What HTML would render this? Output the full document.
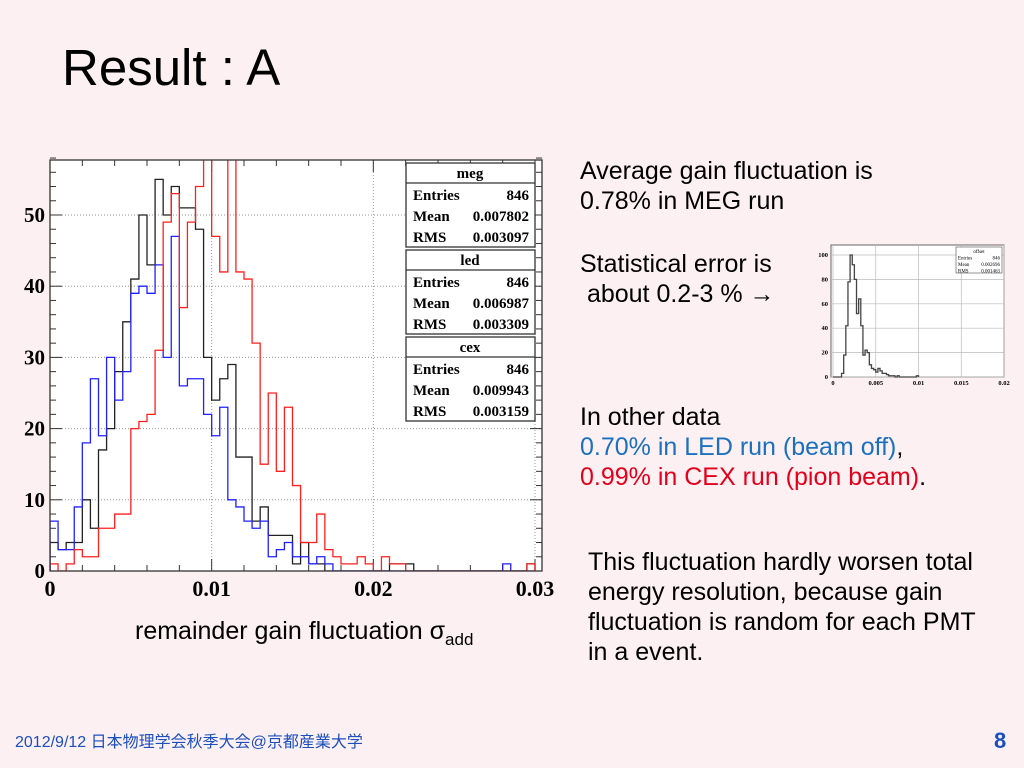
<!DOCTYPE html>
<html><head><meta charset="utf-8"><style>
html,body{margin:0;padding:0}
body{width:1024px;height:768px;position:relative;overflow:hidden;background:#fcf0f2;font-family:"Liberation Sans","Noto Sans CJK JP",sans-serif}
.t{position:absolute;font-size:25px;color:#000;white-space:nowrap;line-height:30px}
svg{position:absolute;left:0;top:0}
</style></head><body>
<div class="t" style="left:62px;top:38px;font-size:51px;line-height:60px">Result : A</div>
<svg id="chart" width="1024" height="768"></svg>
<div class="t" style="left:135px;top:616px">remainder gain fluctuation σ<sub style="font-size:17px">add</sub></div>
<div class="t" style="left:580px;top:156px">Average gain fluctuation is<br>0.78% in MEG run</div>
<div class="t" style="left:580px;top:249px">Statistical error is<br>&nbsp;about 0.2-3 % →</div>
<div class="t" style="left:580px;top:402px">In other data<br><span style="color:#1b70bf">0.70% in LED run (beam off)</span>,<br><span style="color:#e3001b">0.99% in CEX run (pion beam)</span>.</div>
<div class="t" style="left:588px;top:547px">This fluctuation hardly worsen total<br>energy resolution, because gain<br>fluctuation is random for each PMT<br>in a event.</div>
<div class="t" style="left:15px;top:732px;font-size:16px;line-height:22px;color:#1b4fbf">2012/9/12 日本物理学会秋季大会@京都産業大学</div>
<div class="t" style="left:994px;top:726px;font-size:22px;font-weight:bold;color:#1b4fbf">8</div>
<script>
const megCounts=[4,3,4,4,10,6,17,20,28,35,41,50,43,55,50,54,51,51,48,30,24,27,29,16,16,7,9,5,5,5,1,4,1,1,0,0,0,0,0,0,0,0,1,1,1,0,0,0,0,0,0,0,0,0,0,0,0,0,0,1];
const ledCounts=[7,3,3,9,18,27,19,30,24,28,39,40,39,43,30,47,26,27,27,22,19,23,10,9,7,6,7,2,3,4,2,2,1,2,1,0,0,0,0,0,0,0,0,0,0,0,0,0,0,0,0,0,0,0,0,0,1,0,0,0];
const cexCounts=[1,0,1,3,2,2,6,6,8,8,20,21,22,31,49,53,37,49,54,62,47,42,65,42,41,32,15,25,14,23,12,4,4,8,3,2,1,1,2,1,0,2,1,1,0,0,0,0,0,0,0,0,0,0,0,0,0,0,0,1];
const binWidth=0.0005;
const xTicks=[0,0.01,0.02,0.03];
const xTickLabels=["0","0.01","0.02","0.03"];
const yTicks=[0,10,20,30,40,50];
const statNames=["meg","led","cex"];
const statEntries=["846","846","846"];
const statMeans=["0.007802","0.006987","0.009943"];
const statRMS=["0.003097","0.003309","0.003159"];
const insetCounts=[0,0,0,0,3,18,42,78,100,92,80,52,64,42,18,22,20,10,7,6,4,7,5,3,3,2,1,1,1,0,1,0,0,0,0,0,0,0,0,1];
const insetBinWidth=0.00025;
const insetXTicks=[0,0.005,0.01,0.015,0.02];
const insetXLabels=["0","0.005","0.01","0.015","0.02"];
const insetYTicks=[0,20,40,60,80,100];

const NS="http://www.w3.org/2000/svg";
const svg=document.getElementById('chart');
function mk(tag,attrs,parent){const e=document.createElementNS(NS,tag);for(const k in attrs)e.setAttribute(k,attrs[k]);(parent||svg).appendChild(e);return e;}

const L=50,R=542,T=160,B=571;
const xs=v=>L+v/0.03*(535-L);
const ys=v=>B-v*7.12;
const bg=mk('rect',{x:L,y:T,width:R-L,height:B-T,fill:'#fff'});


const clip=mk('clipPath',{id:'pc'});mk('rect',{x:L,y:T,width:R-L,height:B-T},clip);
xTicks.forEach((v,i)=>{
  if(i>0){const g=mk('line',{x1:xs(v),x2:xs(v),y1:T,y2:B,stroke:'#999','stroke-dasharray':'1,2','stroke-width':1});
  
  }
  const t=mk('text',{x:xs(v),y:B+25,'text-anchor':'middle','font-family':'Liberation Serif, serif','font-weight':'bold','font-size':22});
  t.textContent=xTickLabels[i];
  
  
});
yTicks.forEach(v=>{
  if(v>0){const g=mk('line',{x1:L,x2:R,y1:ys(v),y2:ys(v),stroke:'#999','stroke-dasharray':'1,2','stroke-width':1});
  
  }
  const t=mk('text',{x:45,y:ys(v)+7,'text-anchor':'end','font-family':'Liberation Serif, serif','font-weight':'bold','font-size':21});
  t.textContent=String(v);
  
  
});
for(let v=0;v<=58;v+=2){const len=(v%10===0)?12:6;
  mk('line',{x1:L,x2:L+len,y1:ys(v),y2:ys(v),stroke:'#333'});mk('line',{x1:R,x2:R-len,y1:ys(v),y2:ys(v),stroke:'#333'});}
for(let v=0;v<=0.0305;v+=0.002){const len=(Math.abs(v/0.01-Math.round(v/0.01))<1e-6)?12:6;
  mk('line',{x1:xs(v),x2:xs(v),y1:B,y2:B-len,stroke:'#333'});mk('line',{x1:xs(v),x2:xs(v),y1:T,y2:T+len,stroke:'#333'});}
function hist(counts,w,xf,yf,color,name){
  let d='M'+xf(0)+','+yf(0);
  counts.forEach((c,i)=>{d+=' L'+xf(i*w)+','+yf(c)+' L'+xf((i+1)*w)+','+yf(c);});
  d+=' L'+xf(counts.length*w)+','+yf(0);
  const p=mk('path',{d:d,fill:'none',stroke:color,'stroke-width':1.3,'clip-path':'url(#pc)'});
  
  
  return p;
}
hist(megCounts,binWidth,xs,ys,'#222','meg-histogram');
hist(ledCounts,binWidth,xs,ys,'#2020ff','led-histogram');
hist(cexCounts,binWidth,xs,ys,'#ff2020','cex-histogram');
const fr=mk('rect',{x:L,y:T,width:R-L,height:B-T,fill:'none',stroke:'#333','stroke-width':1.3});


statNames.forEach((n,i)=>{
  const y0=163+i*87;
  const g=mk('g',{});
  
  
  mk('rect',{x:406,y:y0,width:129,height:84,fill:'#fff',stroke:'#333','stroke-width':1.3},g);
  mk('line',{x1:406,x2:535,y1:y0+20,y2:y0+20,stroke:'#333','stroke-width':1.3},g);
  const tf={'font-family':'Liberation Serif, serif','font-weight':'bold','font-size':15};
  const h=mk('text',Object.assign({x:470,y:y0+15,'text-anchor':'middle'},tf),g);h.textContent=n;
  const rows=[["Entries",statEntries[i]],["Mean",statMeans[i]],["RMS",statRMS[i]]];
  rows.forEach((r,j)=>{
    const a=mk('text',Object.assign({x:413,y:y0+37+j*21},tf),g);a.textContent=r[0];
    const b=mk('text',Object.assign({x:529,y:y0+37+j*21,'text-anchor':'end'},tf),g);b.textContent=r[1];
  });
});
const iL=831,iR=1004,iT=245,iB=377;
const ixs=v=>833+v/0.02*(1004-833);
const iys=v=>iB-v*1.22;
const ib=mk('rect',{x:iL,y:iT,width:iR-iL,height:iB-iT,fill:'#fff',stroke:'#666','stroke-width':1});


insetXTicks.forEach((v,i)=>{
  mk('line',{x1:ixs(v),x2:ixs(v),y1:iT,y2:iB,stroke:'#bbb','stroke-width':0.7});
  const t=mk('text',{x:ixs(v),y:iB+8,'text-anchor':'middle','font-family':'Liberation Serif, serif','font-weight':'bold','font-size':6.5});
  t.textContent=insetXLabels[i];
  
  
});
insetYTicks.forEach(v=>{
  mk('line',{x1:iL,x2:iR,y1:iys(v),y2:iys(v),stroke:'#bbb','stroke-width':0.7});
  const t=mk('text',{x:iL-3,y:iys(v)+2,'text-anchor':'end','font-family':'Liberation Serif, serif','font-weight':'bold','font-size':6.5});
  t.textContent=String(v);
  
  
});
hist(insetCounts,insetBinWidth,ixs,iys,'#444','inset-histogram').removeAttribute('clip-path');
const ig=mk('g',{});


mk('rect',{x:956,y:247,width:46,height:26,fill:'#fff',stroke:'#666','stroke-width':0.7},ig);
[["offset",""],["Entries","846"],["Mean","0.002696"],["RMS","0.001463"]].forEach((r,j)=>{
  const a=mk('text',{x:j===0?979:958,y:253+j*6.5,'font-family':'Liberation Serif, serif','font-size':5,'text-anchor':j===0?'middle':'start'},ig);a.textContent=r[0];
  if(r[1]){const b=mk('text',{x:1000,y:253+j*6.5,'font-family':'Liberation Serif, serif','font-size':5,'text-anchor':'end'},ig);b.textContent=r[1];}
});
</script>
</body></html>
